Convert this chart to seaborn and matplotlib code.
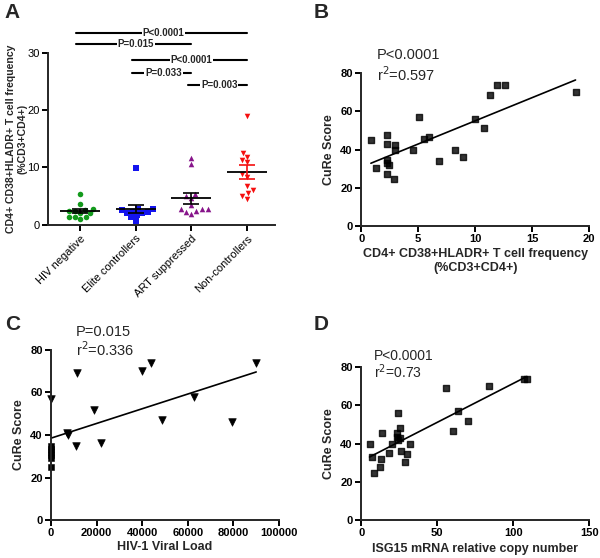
import seaborn as sns
import matplotlib.pyplot as plt
import pandas as pd
import numpy as np

# Panel A data: CD4+ CD38+HLADR+ T cell frequency by group
groups = ["HIV negative", "Elite controllers", "ART suppressed", "Non-controllers"]
hiv_neg = [3.7, 5.3, 2.5, 2.6, 2.85, 2.5, 1.45, 1.0, 1.3, 1.3, 2.0, 2.0]
elite = [9.9, 0.75, 2.7, 2.3, 2.6, 2.3, 2.0, 1.3, 2.0, 2.7, 1.7]
art = [11.7, 10.6, 4.6, 5.1, 5.3, 3.5, 2.5, 2.7, 1.9, 2.7, 2.3, 2.7]
non_ctrl = [18.9, 12.6, 11.9, 11.3, 10.9, 8.9, 8.4, 6.8, 6.0, 5.5, 5.1, 4.5]
group_vals = [hiv_neg, elite, art, non_ctrl]
group_colors = ["#139a1c", "#1414ee", "#87148a", "#f50f0f"]
group_markers = ["o", "s", "^", "v"]
err_colors = ["black", "black", "black", "#f50f0f"]

# significance brackets: (from group, to group, level, label)
sig_from = [0, 0, 1, 1, 2]
sig_to = [3, 2, 3, 2, 3]
sig_y = [33.5, 31.6, 28.7, 26.4, 24.4]
sig_text = ["P<0.0001", "P=0.015", "P<0.0001", "P=0.033", "P=0.003"]

# Panel B: activation vs CuRe score
b_x = [0.85, 1.3, 2.3, 2.25, 2.3, 2.3, 2.4, 2.25, 2.9, 2.95, 3.0, 4.5, 5.1, 5.5,
       5.95, 6.8, 8.25, 8.9, 10.0, 10.8, 11.3, 11.9, 12.6, 18.8]
b_y = [45.1, 30.3, 47.8, 42.7, 34.3, 32.9, 31.7, 27.4, 24.7, 42.2, 39.9, 39.6, 57.0, 45.7,
       46.5, 34.0, 39.9, 35.9, 56.1, 51.2, 68.8, 73.6, 73.6, 69.9]

# Panel C: viral load vs CuRe score
c_tri_x = [0, 7000, 7500, 11240, 10800, 18800, 21750, 40000, 43650, 48500, 62500, 79600, 90000]
c_tri_y = [56.8, 41.0, 40.0, 69.3, 34.8, 51.8, 36.1, 70.3, 74.0, 47.1, 57.7, 46.1, 74.0]
c_sq_x = [0, 0, 0, 0, 0, 0]
c_sq_y = [35.0, 33.5, 32.0, 30.5, 29.0, 25.0]

# Panel D: ISG15 vs CuRe score
d_x = [5.5, 7.2, 8.3, 12.5, 12.9, 13.6, 18.2, 20.4, 23.4, 23.6, 24.5, 24.5, 25.6, 25.2,
       26.0, 28.5, 30.0, 32.2, 55.8, 60.2, 63.9, 70.1, 83.9, 107.1, 108.8]
d_y = [39.8, 33.2, 24.8, 27.9, 32.1, 45.4, 34.9, 40.0, 45.4, 43.7, 56.2, 41.9, 48.0, 42.8,
       36.3, 30.4, 34.6, 39.8, 69.3, 46.8, 57.3, 51.7, 70.2, 73.9, 73.9]

sns.set_theme(style="ticks")
plt.rcParams["font.family"] = ["Liberation Sans", "DejaVu Sans"]
plt.rcParams["axes.linewidth"] = 1.4
plt.rcParams["xtick.major.width"] = 1.4
plt.rcParams["ytick.major.width"] = 1.4
plt.rcParams["xtick.major.size"] = 4
plt.rcParams["ytick.major.size"] = 4

fig = plt.figure(figsize=(6, 5.58), dpi=100)
axA = fig.add_axes([0.08, 0.597, 0.378, 0.36])
axB = fig.add_axes([0.602, 0.595, 0.38, 0.274])
axC = fig.add_axes([0.085, 0.068, 0.38, 0.305])
axD = fig.add_axes([0.602, 0.068, 0.38, 0.274])

lab_font = dict(fontsize=9, fontweight="bold")

# ---- Panel A ----
dfA = pd.DataFrame({"group": np.repeat(groups, [len(v) for v in group_vals]),
                    "freq": np.concatenate(group_vals)})
for i, g in enumerate(groups):
    sns.swarmplot(data=dfA[dfA["group"] == g], x="group", y="freq", order=groups,
                  color=group_colors[i], marker=group_markers[i], size=4, ax=axA)
    vals = np.array(group_vals[i])
    m = vals.mean()
    sem = vals.std(ddof=1) / np.sqrt(len(vals))
    axA.hlines(m, i - 0.36, i + 0.36, color="black", lw=1.3, zorder=4)
    axA.errorbar(i, m, yerr=sem, color=err_colors[i], capsize=6, lw=1.2, capthick=1.2, zorder=4)

for a, b, y, t in zip(sig_from, sig_to, sig_y, sig_text):
    axA.plot([a - 0.07, b], [y, y], color="black", lw=1.5, clip_on=False)
    axA.text((a + b) / 2, y, t, ha="center", va="center", fontsize=7, fontweight="bold",
             bbox=dict(facecolor="white", edgecolor="none", pad=0.6))

axA.set_xlim(-0.58, 3.5)
axA.set_ylim(0, 35)
axA.set_yticks([0, 10, 20, 30])
axA.spines["left"].set_bounds(0, 30)
axA.set_yticklabels(["0", "10", "20", "30"], fontsize=8)
axA.set_xticks(range(4))
axA.set_xticklabels(groups, rotation=45, ha="right", rotation_mode="anchor", fontsize=8)
axA.set_xlabel("")
axA.set_ylabel("CD4+ CD38+HLADR+ T cell frequency\n(%CD3+CD4+)", fontsize=7.6,
               fontweight="bold", labelpad=2)
axA.yaxis.set_label_coords(-0.09, 15 / 35)
sns.despine(ax=axA)

# ---- Panel B ----
sns.regplot(x=b_x, y=b_y, ci=None, ax=axB, marker="s", color="black",
            scatter_kws=dict(s=24, clip_on=False), line_kws=dict(lw=1.2))
axB.set_xlim(0, 20)
axB.set_ylim(0, 80)
axB.set_xticks([0, 5, 10, 15, 20])
axB.set_yticks([0, 20, 40, 60, 80])
axB.set_xlabel("CD4+ CD38+HLADR+ T cell frequency\n(%CD3+CD4+)", **lab_font, labelpad=3)
axB.set_ylabel("CuRe Score", **lab_font)
axB.text(0.07, 1.118, "P<0.0001", transform=axB.transAxes, fontsize=10.5, va="center")
axB.text(0.07, 0.993, r"r$^2$=0.597", transform=axB.transAxes, fontsize=10.5, va="center")
sns.despine(ax=axB)

# ---- Panel C ----
sns.regplot(x=c_tri_x + c_sq_x, y=c_tri_y + c_sq_y, ci=None, scatter=False, ax=axC,
            color="black", line_kws=dict(lw=1.2))
sns.scatterplot(x=c_tri_x, y=c_tri_y, marker="v", s=30, color="black", edgecolor="black",
                ax=axC, clip_on=False)
sns.scatterplot(x=c_sq_x, y=c_sq_y, marker="s", s=24, color="black", edgecolor="black",
                ax=axC, clip_on=False)
axC.set_xlim(0, 100000)
axC.set_ylim(0, 80)
axC.set_xticks([0, 20000, 40000, 60000, 80000, 100000])
axC.set_yticks([0, 20, 40, 60, 80])
axC.set_xlabel("HIV-1 Viral Load", **lab_font, labelpad=2)
axC.set_ylabel("CuRe Score", **lab_font)
axC.text(0.11, 1.106, "P=0.015", transform=axC.transAxes, fontsize=10.5, va="center")
axC.text(0.11, 1.0, r"r$^2$=0.336", transform=axC.transAxes, fontsize=10.5, va="center")
sns.despine(ax=axC)

# ---- Panel D ----
sns.regplot(x=d_x, y=d_y, ci=None, ax=axD, marker="s", color="black",
            scatter_kws=dict(s=24, clip_on=False), line_kws=dict(lw=1.2))
axD.set_xlim(0, 150)
axD.set_ylim(0, 80)
axD.set_xticks([0, 50, 100, 150])
axD.set_yticks([0, 20, 40, 60, 80])
axD.set_xlabel("ISG15 mRNA relative copy number", **lab_font, labelpad=3)
axD.set_ylabel("CuRe Score", **lab_font)
axD.text(0.057, 1.075, "P<0.0001", transform=axD.transAxes, fontsize=10, va="center")
axD.text(0.057, 0.972, r"r$^2$=0.73", transform=axD.transAxes, fontsize=10, va="center")
sns.despine(ax=axD)

for ax in [axB, axC, axD]:
    for lbl in ax.get_xticklabels() + ax.get_yticklabels():
        lbl.set_fontsize(8)
        lbl.set_fontweight("bold")
for ax in [axA, axB, axC, axD]:
    ax.tick_params(pad=2, colors="black")

for letter, (lx, ly) in zip("ABCD", [(0.008, 0.978), (0.522, 0.978), (0.008, 0.418), (0.522, 0.418)]):
    fig.text(lx, ly, letter, fontsize=15, fontweight="bold", va="center")

fig.savefig("out.png", dpi=100)
